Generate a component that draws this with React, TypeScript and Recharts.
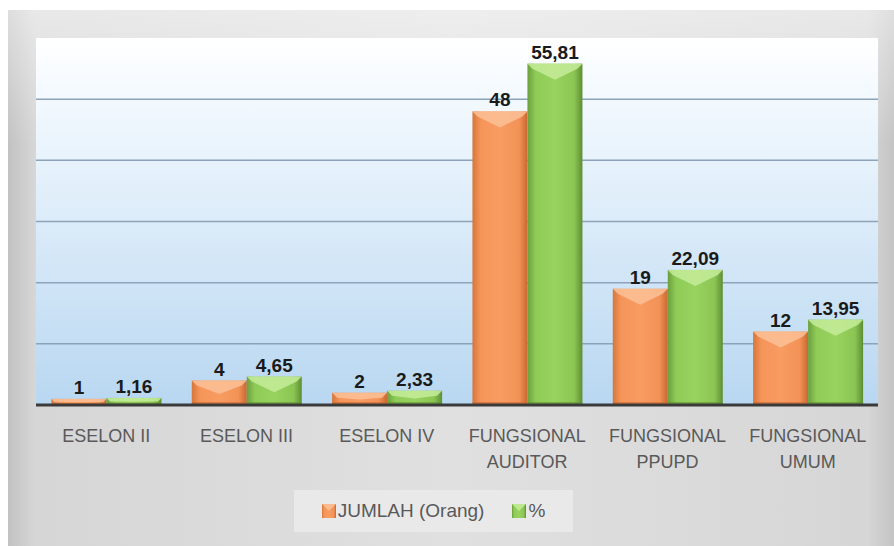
import { BarChart, Bar, XAxis, YAxis, CartesianGrid, LabelList } from 'recharts';

const categories = ['ESELON II', 'ESELON III', 'ESELON IV', 'FUNGSIONAL AUDITOR', 'FUNGSIONAL PPUPD', 'FUNGSIONAL UMUM'];
const jumlah = [1, 4, 2, 48, 19, 12];
const persen = [1.16, 4.65, 2.33, 55.81, 22.09, 13.95];
const yTicks = [0, 10, 20, 30, 40, 50];

const data = categories.map((c, i) => ({ name: c, jumlah: jumlah[i], persen: persen[i] }));

const fmt = (v: any) => String(v).replace('.', ',');
const FONT = '"Liberation Sans", Arial, sans-serif';

const COLORS = {
  orange: { grad: 'gOrange', light: '#fcc196', edge: '#c9672e' },
  green: { grad: 'gGreen', light: '#c6ec9a', edge: '#5f9134' },
};

function BevelBar(props: any) {
  const { x, y, width, height, tone } = props;
  if (!height || height <= 0) return null;
  const c = (COLORS as any)[tone];
  const d = Math.min(16, height * 0.55);
  const b = Math.min(5, height / 2);
  return (
    <g>
      <rect x={x} y={y} width={width} height={height} fill={`url(#${c.grad})`} />
      <polygon
        points={`${x},${y} ${x + width},${y} ${x + width - b},${y + b} ${x + width / 2},${y + d} ${x + b},${y + b}`}
        fill={c.light}
        opacity={0.85}
      />
      <rect x={x} y={y + height - Math.min(3, height / 3)} width={width} height={Math.min(3, height / 3)} fill={c.edge} opacity={0.6} />
    </g>
  );
}

function CatTick(props: any) {
  const { x, y, payload } = props;
  const words = String(payload.value).split(' ');
  const lines = words[0] === 'FUNGSIONAL' ? ['FUNGSIONAL', words.slice(1).join(' ')] : [payload.value];
  return (
    <g>
      {lines.map((l: string, i: number) => (
        <text key={i} x={x} y={y + 37 + i * 26} textAnchor="middle" fontFamily={FONT} fontSize={18} fill="#595959">
          {l}
        </text>
      ))}
    </g>
  );
}

function ValueLabel(props: any) {
  const { x, y, width, value, offset } = props;
  return (
    <text x={x + width / 2} y={y - offset} textAnchor="middle" fontFamily={FONT} fontWeight={700} fontSize={19} fill="#1a1a1a">
      {fmt(value)}
    </text>
  );
}

function LegendIcon({ tone }: { tone: string }) {
  const c = (COLORS as any)[tone];
  return (
    <svg width={14} height={14} style={{ verticalAlign: 'middle', marginRight: 2 }}>
      <rect x={0} y={0} width={14} height={14} fill={`url(#${c.grad})`} />
      <polygon points="0,0 14,0 7,7" fill={c.light} opacity={0.85} />
    </svg>
  );
}

export default function App() {
  return (
    <div
      style={{
        position: 'absolute',
        left: 8,
        top: 10,
        width: 886,
        height: 536,
        background:
          'linear-gradient(180deg, rgba(255,255,255,0.45) 0%, rgba(255,255,255,0) 25%), linear-gradient(90deg, #c2c2c2 0%, #d6d6d6 3%, #e0e0e0 50%, #d6d6d6 97%, #c4c4c4 100%)',
      }}
    >
      <svg width={0} height={0} style={{ position: 'absolute' }}>
        <defs>
          <linearGradient id="plotBg" x1="0" y1="0" x2="0" y2="1">
            <stop offset="0%" stopColor="#ffffff" />
            <stop offset="12%" stopColor="#f6fbff" />
            <stop offset="100%" stopColor="#b8d7f1" />
          </linearGradient>
          <linearGradient id="gOrange" x1="0" y1="0" x2="1" y2="0">
            <stop offset="0%" stopColor="#d6763a" />
            <stop offset="15%" stopColor="#f5955a" />
            <stop offset="50%" stopColor="#f89c62" />
            <stop offset="85%" stopColor="#f29257" />
            <stop offset="100%" stopColor="#c8672f" />
          </linearGradient>
          <linearGradient id="gGreen" x1="0" y1="0" x2="1" y2="0">
            <stop offset="0%" stopColor="#6b9f3c" />
            <stop offset="15%" stopColor="#8fcb57" />
            <stop offset="50%" stopColor="#98d35f" />
            <stop offset="85%" stopColor="#8bc654" />
            <stop offset="100%" stopColor="#5e8e33" />
          </linearGradient>
        </defs>
      </svg>
      <BarChart
        width={886}
        height={536}
        data={data}
        margin={{ top: 28, right: 16, left: 28, bottom: 81 }}
        barCategoryGap="11%"
        barGap={0}
      >
        <CartesianGrid
          vertical={false}
          horizontalValues={yTicks}
          stroke="#8ca3b9"
          strokeWidth={1.5}
          fill="url(#plotBg)"
          fillOpacity={1}
        />
        <YAxis hide domain={[0, 60]} ticks={yTicks} />
        <XAxis
          dataKey="name"
          height={60}
          tickLine={false}
          tickSize={0}
          tickMargin={0}
          axisLine={{ stroke: '#3a3a3a', strokeWidth: 3 }}
          tick={<CatTick />}
          interval={0}
        />
        <Bar dataKey="jumlah" isAnimationActive={false} shape={<BevelBar tone="orange" />}>
          <LabelList dataKey="jumlah" content={<ValueLabel offset={13} />} />
        </Bar>
        <Bar dataKey="persen" isAnimationActive={false} shape={<BevelBar tone="green" />}>
          <LabelList dataKey="persen" content={<ValueLabel offset={8} />} />
        </Bar>
      </BarChart>
      <div
        style={{
          position: 'absolute',
          left: 286,
          top: 480,
          width: 279,
          height: 42,
          background: '#e9e9e9',
          display: 'flex',
          alignItems: 'center',
          justifyContent: 'center',
          fontFamily: FONT,
          fontSize: 19,
          color: '#595959',
        }}
      >
        <LegendIcon tone="orange" />
        <span style={{ marginRight: 28 }}>JUMLAH (Orang)</span>
        <LegendIcon tone="green" />
        <span>%</span>
      </div>
    </div>
  );
}
